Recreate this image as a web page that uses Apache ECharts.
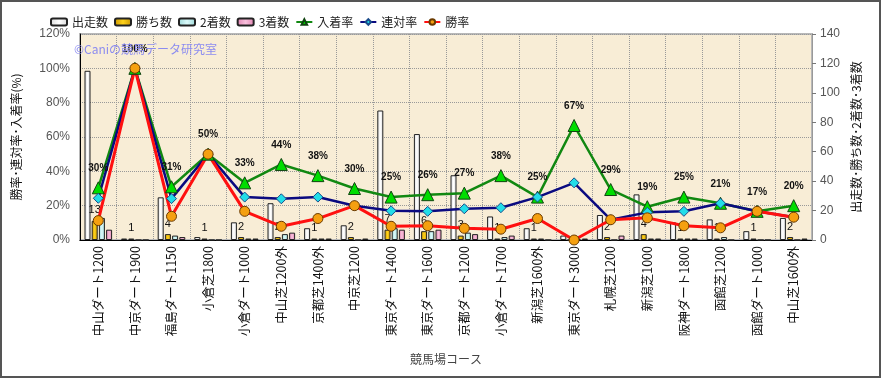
<!DOCTYPE html>
<html><head><meta charset="utf-8">
<script src="https://cdn.jsdelivr.net/npm/echarts@6/dist/echarts.min.js"></script>
<style>html,body{margin:0;padding:0;background:#fff}#c{width:881px;height:378px;box-sizing:border-box;border:2px solid #555}</style>
</head><body><div id="c"></div>
<script>
const categories = ['中山ダート1200','中京ダート1900','福島ダート1150','小倉芝1800','小倉ダート1000','中山芝1200外','京都芝1400外','中京芝1200','東京ダート1400','東京ダート1600','京都ダート1200','小倉ダート1700','新潟芝1600外','東京ダート3000','札幌芝1200','新潟芝1000','阪神ダート1800','函館芝1200','函館ダート1000','中山芝1600外'];
const starts  = [115,1,29,2,12,25,8,10,88,72,44,16,8,3,17,31,12,14,6,15];
const wins    = [13,1,4,1,2,2,1,2,7,6,3,1,1,0,2,4,1,1,1,2];
const seconds = [15,0,3,0,1,4,1,0,8,6,5,2,1,1,0,1,1,2,0,0];
const thirds  = [7,0,2,0,1,5,1,1,7,7,4,3,0,1,3,1,1,0,0,1];
const showRate = [30.4,100,31.0,50,33.3,44,37.5,30,25,26.4,27.3,37.5,25,66.7,29.4,19.4,25,21.4,16.7,20];
const placeRate = [24.3,100,24.1,50,25,24,25,20,17,16.7,18.2,18.8,25,33.3,11.8,16.1,16.7,21.4,16.7,13.3];
const winRate = [11.3,100,13.8,50,16.7,8,12.5,20,8,8.3,6.8,6.3,12.5,0,11.8,12.9,8.3,7.1,16.7,13.3];
const leftTicks = {min:0, max:120, interval:20};
const rightTicks = {min:0, max:140, interval:20};

const FF = '"Liberation Sans","Noto Sans CJK JP",sans-serif';
const JF = '"Noto Sans CJK JP",sans-serif';
function grad(a,b){return new echarts.graphic.LinearGradient(0,0,1,0,[{offset:0,color:a},{offset:0.5,color:b},{offset:1,color:a}]);}
const barBase = {type:'bar', yAxisIndex:1, barWidth:6, barGap:'20%', itemStyle:{borderColor:'#222', borderWidth:1}};
const chart = echarts.init(document.getElementById('c'));
chart.setOption({
  animation:false,
  textStyle:{fontFamily:FF},
  legend:{left:48, top:14, itemWidth:16, itemHeight:7, itemGap:6, padding:0,
    textStyle:{fontSize:12, fontFamily:JF, color:'#222'},
    data:['出走数','勝ち数','2着数','3着数','入着率','連対率','勝率']},
  grid:{left:77, right:67, top:32, bottom:136, show:true, backgroundColor:'#f8edd6', borderColor:'#b8b8b8', borderWidth:2},
  graphic:[{type:'text', left:72, top:41, z:100, style:{text:'©Caniの競馬データ研究室', fill:'#8c8cf0', font:'12px "Noto Sans CJK JP",sans-serif'}}],
  xAxis:{type:'category', data:categories,
    name:'競馬場コース', nameLocation:'middle', nameGap:113, nameTextStyle:{fontSize:12, fontFamily:JF, color:'#444'},
    axisLine:{lineStyle:{color:'#000', width:1}}, axisTick:{show:false},
    axisLabel:{rotate:90, fontSize:12.5, fontFamily:JF, color:'#111', margin:6, interval:0},
    splitLine:{show:true, lineStyle:{type:'dotted', color:'#999'}}},
  yAxis:[
    {type:'value', min:leftTicks.min, max:leftTicks.max, interval:leftTicks.interval,
      name:'勝率･連対率･入着率(%)', nameLocation:'middle', nameRotate:90, nameGap:58,
      nameTextStyle:{fontSize:12, fontFamily:JF, color:'#111'},
      axisLine:{show:true, lineStyle:{color:'#000'}}, axisTick:{show:false},
      axisLabel:{formatter:'{value}%', fontSize:12, color:'#555', margin:10},
      splitLine:{lineStyle:{type:'dotted', color:'#999'}}},
    {type:'value', min:rightTicks.min, max:rightTicks.max, interval:rightTicks.interval,
      name:'出走数･勝ち数･2着数･3着数', nameLocation:'middle', nameRotate:90, nameGap:36,
      nameTextStyle:{fontSize:12, fontFamily:JF, color:'#111'},
      axisLine:{show:true, lineStyle:{color:'#999'}}, axisTick:{show:true, length:4, lineStyle:{color:'#777'}},
      axisLabel:{fontSize:12, color:'#555', margin:8},
      splitLine:{show:false}}
  ],
  series:[
    Object.assign({}, barBase, {name:'出走数', data:starts, itemStyle:{borderColor:'#222', borderWidth:1, color:grad('#d8d8d8','#ffffff')}}),
    Object.assign({}, barBase, {name:'勝ち数', data:wins, itemStyle:{borderColor:'#222', borderWidth:1, color:grad('#c89400','#ffd21a')},
      label:{show:true, position:'top', distance:5, fontSize:11, color:'#111', formatter:p=>p.value>0?String(p.value):''}}),
    Object.assign({}, barBase, {name:'2着数', data:seconds, itemStyle:{borderColor:'#222', borderWidth:1, color:grad('#9ad8d8','#dcfafa')}}),
    Object.assign({}, barBase, {name:'3着数', data:thirds, itemStyle:{borderColor:'#222', borderWidth:1, color:grad('#e080b0','#f8c0dc')}}),
    {name:'入着率', type:'line', yAxisIndex:0, data:showRate, symbol:'triangle', symbolSize:12,
      lineStyle:{color:'#118811', width:2.5}, itemStyle:{color:'#00dd00', borderColor:'#114411', borderWidth:1},
      label:{show:true, position:'top', distance:8, fontSize:10, fontWeight:'bold', color:'#111', formatter:p=>Math.round(p.value)+'%'}},
    {name:'連対率', type:'line', yAxisIndex:0, data:placeRate, symbol:'diamond', symbolSize:10,
      lineStyle:{color:'#0a0a80', width:2.5}, itemStyle:{color:'#22dde8', borderColor:'#1a4a8a', borderWidth:1}},
    {name:'勝率', type:'line', yAxisIndex:0, data:winRate, symbol:'circle', symbolSize:10,
      lineStyle:{color:'#ff1010', width:3}, itemStyle:{color:'#f5a010', borderColor:'#6a3a00', borderWidth:1}}
  ]
});
</script></body></html>
